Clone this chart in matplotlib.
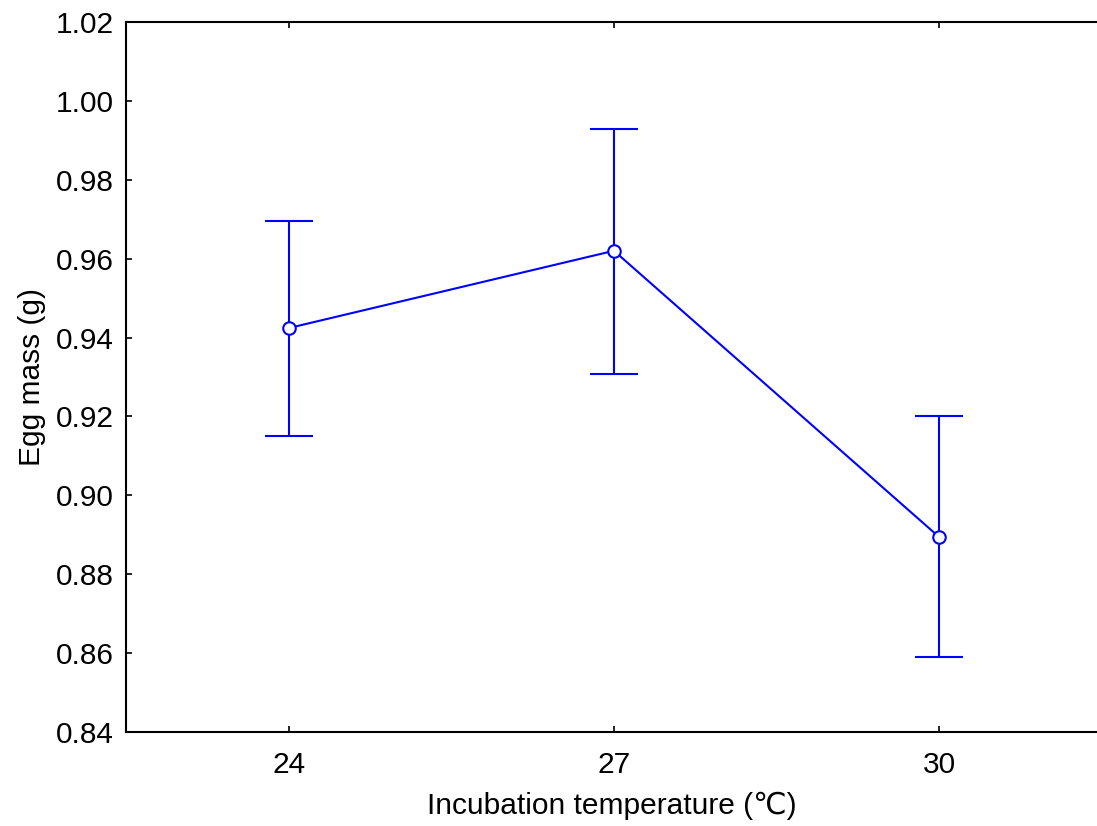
import matplotlib
matplotlib.use("Agg")
import matplotlib.pyplot as plt

plt.rcParams['font.family'] = ['Liberation Sans', 'DejaVu Sans', 'Noto Sans CJK SC']

temps = ["24", "27", "30"]
means = [0.9424, 0.9620, 0.8894]
upper = [0.9695, 0.9929, 0.9202]
lower = [0.9150, 0.9308, 0.8590]

fig = plt.figure(figsize=(10.97, 8.26), dpi=100)
ax = fig.add_axes([126/1097, 1 - 732/826, 1 - 126/1097, (732 - 22)/826])

x = list(range(len(temps)))
yerr = [[m - l for m, l in zip(means, lower)], [u - m for u, m in zip(upper, means)]]
ax.errorbar(x, means, yerr=yerr, color='#0000ff', lw=1.5, capsize=17, capthick=1.5,
            marker='o', ms=9, mfc='white', mec='#0000ff', mew=1.5, zorder=3)

ax.set_xlim(-0.5, 2.485)
ax.set_ylim(0.84, 1.02)
ax.set_xticks(x)
ax.set_xticklabels(temps)
ax.set_yticks([0.84 + 0.02 * i for i in range(10)])
ax.set_yticklabels([f"{0.84 + 0.02 * i:.2f}" for i in range(10)])
ax.tick_params(direction='in', length=4, width=1.2, labelsize=21.5, top=True, pad=9)
ax.tick_params(axis='x', pad=14)
ax.spines['right'].set_visible(False)
for s in ['left', 'top', 'bottom']:
    ax.spines[s].set_linewidth(1.5)
ax.set_xlabel("Incubation temperature (℃)", fontsize=21.5, labelpad=9)
ax.set_ylabel("Egg mass (g)", fontsize=21.5, labelpad=7)

fig.savefig("out.png", dpi=100)
